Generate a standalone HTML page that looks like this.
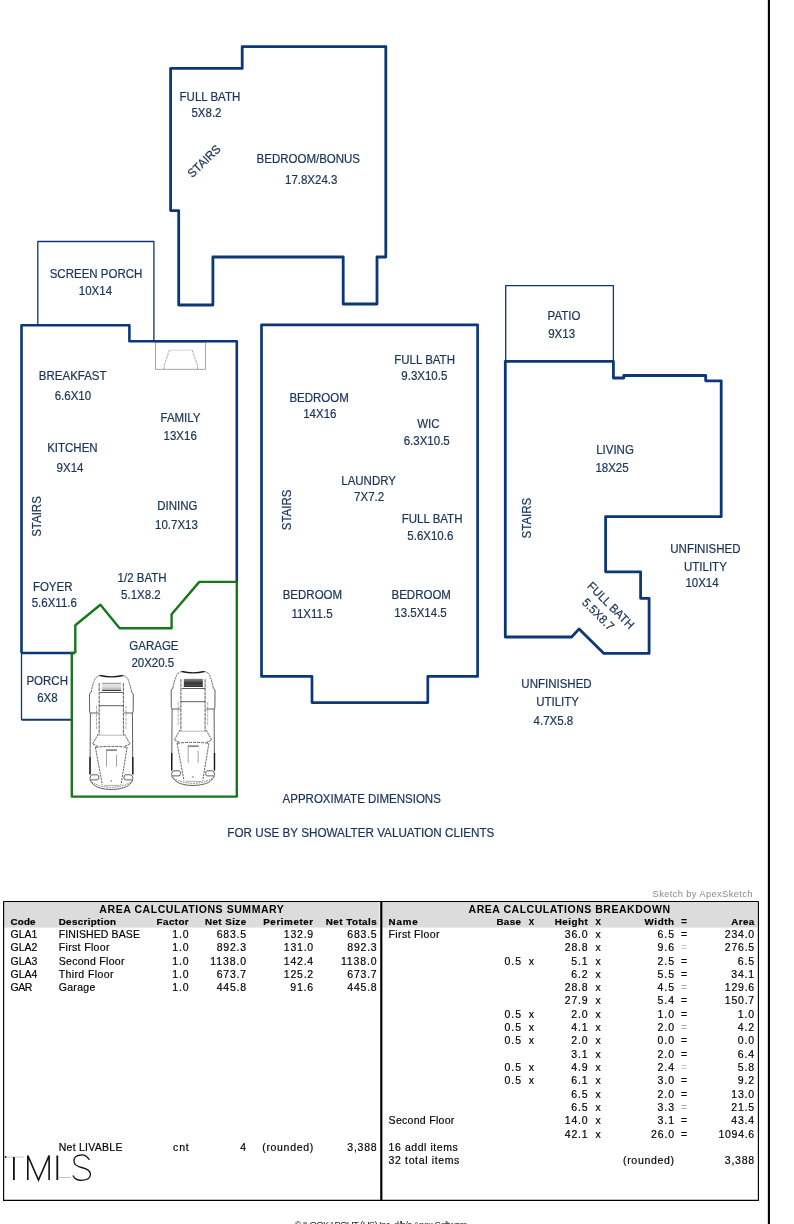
<!DOCTYPE html>
<html><head><meta charset="utf-8"><title>Sketch</title>
<style>
html,body{margin:0;padding:0;background:#fff;width:794px;height:1224px;overflow:hidden;}
svg{display:block;will-change:transform;font-family:"Liberation Sans",sans-serif;}
.t text{font-family:"Liberation Sans",sans-serif;}
</style></head><body>
<svg width="794" height="1224" viewBox="0 0 794 1224">
<defs><linearGradient id="wsg" x1="0" y1="0" x2="0" y2="1"><stop offset="0" stop-color="#e6e6e6"/><stop offset="0.5" stop-color="#dcdcdc"/><stop offset="1" stop-color="#a0a0a0"/></linearGradient>
<linearGradient id="wsg2" x1="0" y1="0" x2="0" y2="1"><stop offset="0" stop-color="#888"/><stop offset="0.5" stop-color="#333"/><stop offset="1" stop-color="#555"/></linearGradient></defs>
<g class="plan"><path d="M170.6,68.4 L242.2,68.4 L242.2,46.6 L385.8,46.6 L385.8,257 L377,257 L377,304 L343.2,304 L343.2,257 L212.9,257 L212.9,305 L178.7,305 L178.7,210.6 L170.6,210.6 Z" fill="none" stroke="#0c3779" stroke-width="2.8" stroke-linejoin="round"/><path d="M37.8,324.6 L37.8,241.5 L153.9,241.5 L153.9,341" fill="none" stroke="#0c3779" stroke-width="1.3" stroke-linejoin="round"/><path d="M21.5,653 L21.5,325.2 L129.4,325.2 L129.4,341.2 L236.8,341.2 L236.8,581.9" fill="none" stroke="#0c3779" stroke-width="2.6" stroke-linejoin="round"/><path d="M21.5,653 L75,653" fill="none" stroke="#0c3779" stroke-width="2.3" stroke-linejoin="round"/><rect x="155.5" y="342.4" width="50" height="26.8" fill="none" stroke="#6a6a6a" stroke-width="0.6"/><path d="M164.2,369 L164.2,365 L169.5,350.2 M192.1,350.2 L197.5,365 L197.5,369" fill="none" stroke="#666" stroke-width="0.6" stroke-dasharray="2.5,1"/><path d="M169.5,350.2 L192.1,350.2" stroke="#aaa" stroke-width="0.5"/><path d="M21.5,653 L21.5,719.8" fill="none" stroke="#0c3779" stroke-width="1.3" stroke-linejoin="round"/><path d="M21.5,719.8 L71.8,719.8" fill="none" stroke="#15396a" stroke-width="2.0" stroke-linejoin="round"/><path d="M75.3,653 L75.3,625.2 L100.4,604.8 L119.6,628.2 L171.6,628.2 L171.6,614.3 L199.3,581.9 L236.8,581.9 L236.8,796.6 L71.8,796.6 L71.8,653 L75.3,653" fill="none" stroke="#16781a" stroke-width="2.4" stroke-linejoin="round"/><path d="M261.5,324.8 L477.6,324.8 L477.6,676.4 L427.8,676.4 L427.8,702.6 L312,702.6 L312,676.4 L261.5,676.4 Z" fill="none" stroke="#0c3779" stroke-width="2.7" stroke-linejoin="round"/><path d="M505.7,361.3 L505.7,285.7 L613.4,285.7 L613.4,361.3" fill="none" stroke="#0c3779" stroke-width="1.3" stroke-linejoin="round"/><path d="M505.3,361.3 L613.4,361.3 L613.4,378 L623.8,378 L623.8,375.5 L705.7,375.5 L705.7,380.8 L721.2,380.8 L721.2,516.7 L605.6,516.7 L605.6,571.8 L640.6,571.8 L640.6,598.3 L649.1,598.3 L649.1,653.4 L603.9,653.4 L579.1,628.9 L571.6,637.0 L505.3,637.0 Z" fill="none" stroke="#0c3779" stroke-width="2.8" stroke-linejoin="round"/><g transform="translate(89.2,674.9)"><g id="car" fill="none" stroke="#1a1a1a" stroke-width="0.7">
<path d="M11,0.6 Q22.3,3.4 33.5,0.6" stroke-width="1.3"/>
<path d="M11,0.6 Q6,1.5 4.8,6.9 Q3,11 2,17.3 M33.5,0.6 Q38.5,1.5 39.6,6.9 Q41.4,11 42.4,17.3" stroke-dasharray="2.2,0.8"/>
<path d="M2,17.3 Q0.3,18 0.3,20 L0.4,36 Q0.4,37.8 1.2,38.1 L9.5,38.1 M42.4,17.3 Q44.1,18 44.1,20 L44,36 Q44,37.8 43.2,38.1 L35,38.1"/>
<path d="M1.2,38.1 L0.8,100 M43.2,38.1 L43.6,100"/>
<path d="M0.8,82 L0.8,99.4 M43.6,82 L43.6,99.4" stroke-width="1.4"/>
<rect x="12.9" y="8.3" width="19" height="7.6" fill="url(#wsg)" stroke="none"/>
<path d="M12.9,8.4 L31.9,8.4" stroke="#555" stroke-width="0.6"/>
<path d="M12.9,15.6 L31.9,15.6" stroke="#222" stroke-width="0.8"/>
<path d="M11,17.6 L33.9,17.6"/>
<path d="M10,8.3 L10,60.3 M34.2,8.3 L34.2,60.3" stroke-dasharray="3.5,0.7"/>
<path d="M10,30.8 L34.2,30.8"/>
<path d="M9.7,60.3 L34.6,60.3" stroke="#888" stroke-width="0.6"/>
<path d="M7.3,31 L7.3,55 M36.8,31 L36.8,55" stroke="#666" stroke-width="0.55" stroke-dasharray="3,1"/>
<path d="M9,59.3 L3.4,69 L9,71.7 M35.3,59.3 L40.8,69 L35.3,71.7" stroke-dasharray="2.2,0.7"/>
<path d="M6.2,72.4 Q22.1,70.5 38,72.4" stroke-dasharray="3,1"/>
<path d="M6.2,72.4 L13.1,109.8 M38,72.4 L31.8,109.8" stroke-dasharray="2.2,0.9"/>
<path d="M15.2,110.5 L30.4,110.5" stroke="#777" stroke-width="0.6"/>
<path d="M16.9,75.2 L27.7,75.2" stroke-width="1.1" stroke="#444"/>
<path d="M17.3,75.9 L17.3,91.8 M27.3,80 L27.3,91.8" stroke="#666" stroke-width="0.6"/>
<path d="M0.7,103.6 Q0.7,100.2 3,99.9 L8.5,99.9 Q9.6,100.5 9.6,102.5 Q9.6,104.8 8,105 L1.5,105 Z M43.7,103.6 Q43.7,100.2 41.4,99.9 L35.9,99.9 Q34.8,100.5 34.8,102.5 Q34.8,104.8 36.4,105 L42.9,105 Z"/>
<path d="M0.7,105 Q4,111 9.7,112.8 Q15,114.6 22.1,114.6 Q29,114.6 34.6,112.8 Q40.5,111 43.7,105"/>
<path d="M2.5,107.2 Q10,112 22.1,112.5 Q34,112 41.8,107.2" stroke-dasharray="1.6,1" stroke="#444"/>
<circle cx="22.1" cy="106" r="0.55" fill="#222" stroke="none"/>
</g></g><g transform="translate(170.9,670.9)"><g  fill="none" stroke="#1a1a1a" stroke-width="0.7">
<path d="M11,0.6 Q22.3,3.4 33.5,0.6" stroke-width="1.3"/>
<path d="M11,0.6 Q6,1.5 4.8,6.9 Q3,11 2,17.3 M33.5,0.6 Q38.5,1.5 39.6,6.9 Q41.4,11 42.4,17.3" stroke-dasharray="2.2,0.8"/>
<path d="M2,17.3 Q0.3,18 0.3,20 L0.4,36 Q0.4,37.8 1.2,38.1 L9.5,38.1 M42.4,17.3 Q44.1,18 44.1,20 L44,36 Q44,37.8 43.2,38.1 L35,38.1"/>
<path d="M1.2,38.1 L0.8,100 M43.2,38.1 L43.6,100"/>
<path d="M0.8,82 L0.8,99.4 M43.6,82 L43.6,99.4" stroke-width="1.4"/>
<rect x="12.9" y="8.3" width="19" height="7.6" fill="url(#wsg2)" stroke="none"/>
<path d="M12.9,8.4 L31.9,8.4" stroke="#555" stroke-width="0.6"/>
<path d="M12.9,15.6 L31.9,15.6" stroke="#222" stroke-width="0.8"/>
<path d="M11,17.6 L33.9,17.6"/>
<path d="M10,8.3 L10,60.3 M34.2,8.3 L34.2,60.3" stroke-dasharray="3.5,0.7"/>
<path d="M10,30.8 L34.2,30.8"/>
<path d="M9.7,60.3 L34.6,60.3" stroke="#888" stroke-width="0.6"/>
<path d="M7.3,31 L7.3,55 M36.8,31 L36.8,55" stroke="#666" stroke-width="0.55" stroke-dasharray="3,1"/>
<path d="M9,59.3 L3.4,69 L9,71.7 M35.3,59.3 L40.8,69 L35.3,71.7" stroke-dasharray="2.2,0.7"/>
<path d="M6.2,72.4 Q22.1,70.5 38,72.4" stroke-dasharray="3,1"/>
<path d="M6.2,72.4 L13.1,109.8 M38,72.4 L31.8,109.8" stroke-dasharray="2.2,0.9"/>
<path d="M15.2,110.5 L30.4,110.5" stroke="#777" stroke-width="0.6"/>
<path d="M16.9,75.2 L27.7,75.2" stroke-width="1.1" stroke="#444"/>
<path d="M17.3,75.9 L17.3,91.8 M27.3,80 L27.3,91.8" stroke="#666" stroke-width="0.6"/>
<path d="M0.7,103.6 Q0.7,100.2 3,99.9 L8.5,99.9 Q9.6,100.5 9.6,102.5 Q9.6,104.8 8,105 L1.5,105 Z M43.7,103.6 Q43.7,100.2 41.4,99.9 L35.9,99.9 Q34.8,100.5 34.8,102.5 Q34.8,104.8 36.4,105 L42.9,105 Z"/>
<path d="M0.7,105 Q4,111 9.7,112.8 Q15,114.6 22.1,114.6 Q29,114.6 34.6,112.8 Q40.5,111 43.7,105"/>
<path d="M2.5,107.2 Q10,112 22.1,112.5 Q34,112 41.8,107.2" stroke-dasharray="1.6,1" stroke="#444"/>
<circle cx="22.1" cy="106" r="0.55" fill="#222" stroke="none"/>
</g></g><text x="0" y="0" text-anchor="middle" font-size="12" fill="#1b3459" stroke="#1b3459" stroke-width="0.22" transform="translate(209.9 100.8) scale(0.958 1)">FULL BATH</text><text x="0" y="0" text-anchor="middle" font-size="12" fill="#1b3459" stroke="#1b3459" stroke-width="0.22" transform="translate(206.5 117.1) scale(0.958 1)">5X8.2</text><text x="0" y="0" text-anchor="middle" font-size="12" fill="#1b3459" stroke="#1b3459" stroke-width="0.22" transform="translate(308.3 162.8) scale(0.958 1)">BEDROOM/BONUS</text><text x="0" y="0" text-anchor="middle" font-size="12" fill="#1b3459" stroke="#1b3459" stroke-width="0.22" transform="translate(311.2 184.0) scale(0.958 1)">17.8X24.3</text><text x="0" y="0" text-anchor="middle" font-size="12" fill="#1b3459" stroke="#1b3459" stroke-width="0.22" transform="translate(96.0 278.3) scale(0.958 1)">SCREEN PORCH</text><text x="0" y="0" text-anchor="middle" font-size="12" fill="#1b3459" stroke="#1b3459" stroke-width="0.22" transform="translate(95.4 295.3) scale(0.958 1)">10X14</text><text x="0" y="0" text-anchor="middle" font-size="12" fill="#1b3459" stroke="#1b3459" stroke-width="0.22" transform="translate(72.7 379.8) scale(0.958 1)">BREAKFAST</text><text x="0" y="0" text-anchor="middle" font-size="12" fill="#1b3459" stroke="#1b3459" stroke-width="0.22" transform="translate(72.9 399.7) scale(0.958 1)">6.6X10</text><text x="0" y="0" text-anchor="middle" font-size="12" fill="#1b3459" stroke="#1b3459" stroke-width="0.22" transform="translate(180.5 422.0) scale(0.958 1)">FAMILY</text><text x="0" y="0" text-anchor="middle" font-size="12" fill="#1b3459" stroke="#1b3459" stroke-width="0.22" transform="translate(180.2 440.0) scale(0.958 1)">13X16</text><text x="0" y="0" text-anchor="middle" font-size="12" fill="#1b3459" stroke="#1b3459" stroke-width="0.22" transform="translate(72.4 452.0) scale(0.958 1)">KITCHEN</text><text x="0" y="0" text-anchor="middle" font-size="12" fill="#1b3459" stroke="#1b3459" stroke-width="0.22" transform="translate(70.0 472.1) scale(0.958 1)">9X14</text><text x="0" y="0" text-anchor="middle" font-size="12" fill="#1b3459" stroke="#1b3459" stroke-width="0.22" transform="translate(177.4 510.2) scale(0.958 1)">DINING</text><text x="0" y="0" text-anchor="middle" font-size="12" fill="#1b3459" stroke="#1b3459" stroke-width="0.22" transform="translate(176.5 528.8) scale(0.958 1)">10.7X13</text><text x="0" y="0" text-anchor="middle" font-size="12" fill="#1b3459" stroke="#1b3459" stroke-width="0.22" transform="translate(52.7 591.3) scale(0.958 1)">FOYER</text><text x="0" y="0" text-anchor="middle" font-size="12" fill="#1b3459" stroke="#1b3459" stroke-width="0.22" transform="translate(54.3 607.0) scale(0.958 1)">5.6X11.6</text><text x="0" y="0" text-anchor="middle" font-size="12" fill="#1b3459" stroke="#1b3459" stroke-width="0.22" transform="translate(142.1 581.9) scale(0.958 1)">1/2 BATH</text><text x="0" y="0" text-anchor="middle" font-size="12" fill="#1b3459" stroke="#1b3459" stroke-width="0.22" transform="translate(140.9 598.9) scale(0.958 1)">5.1X8.2</text><text x="0" y="0" text-anchor="middle" font-size="12" fill="#1b3459" stroke="#1b3459" stroke-width="0.22" transform="translate(153.9 649.6) scale(0.958 1)">GARAGE</text><text x="0" y="0" text-anchor="middle" font-size="12" fill="#1b3459" stroke="#1b3459" stroke-width="0.22" transform="translate(152.8 666.6) scale(0.958 1)">20X20.5</text><text x="0" y="0" text-anchor="middle" font-size="12" fill="#1b3459" stroke="#1b3459" stroke-width="0.22" transform="translate(47.2 684.9) scale(0.958 1)">PORCH</text><text x="0" y="0" text-anchor="middle" font-size="12" fill="#1b3459" stroke="#1b3459" stroke-width="0.22" transform="translate(47.4 701.7) scale(0.958 1)">6X8</text><text x="0" y="0" text-anchor="middle" font-size="12" fill="#1b3459" stroke="#1b3459" stroke-width="0.22" transform="translate(424.6 364.4) scale(0.958 1)">FULL BATH</text><text x="0" y="0" text-anchor="middle" font-size="12" fill="#1b3459" stroke="#1b3459" stroke-width="0.22" transform="translate(424.3 380.4) scale(0.958 1)">9.3X10.5</text><text x="0" y="0" text-anchor="middle" font-size="12" fill="#1b3459" stroke="#1b3459" stroke-width="0.22" transform="translate(319.1 401.9) scale(0.958 1)">BEDROOM</text><text x="0" y="0" text-anchor="middle" font-size="12" fill="#1b3459" stroke="#1b3459" stroke-width="0.22" transform="translate(319.8 417.5) scale(0.958 1)">14X16</text><text x="0" y="0" text-anchor="middle" font-size="12" fill="#1b3459" stroke="#1b3459" stroke-width="0.22" transform="translate(428.3 428.2) scale(0.958 1)">WIC</text><text x="0" y="0" text-anchor="middle" font-size="12" fill="#1b3459" stroke="#1b3459" stroke-width="0.22" transform="translate(426.7 445.4) scale(0.958 1)">6.3X10.5</text><text x="0" y="0" text-anchor="middle" font-size="12" fill="#1b3459" stroke="#1b3459" stroke-width="0.22" transform="translate(368.6 485.2) scale(0.958 1)">LAUNDRY</text><text x="0" y="0" text-anchor="middle" font-size="12" fill="#1b3459" stroke="#1b3459" stroke-width="0.22" transform="translate(369.1 500.6) scale(0.958 1)">7X7.2</text><text x="0" y="0" text-anchor="middle" font-size="12" fill="#1b3459" stroke="#1b3459" stroke-width="0.22" transform="translate(432.1 522.5) scale(0.958 1)">FULL BATH</text><text x="0" y="0" text-anchor="middle" font-size="12" fill="#1b3459" stroke="#1b3459" stroke-width="0.22" transform="translate(430.3 539.6) scale(0.958 1)">5.6X10.6</text><text x="0" y="0" text-anchor="middle" font-size="12" fill="#1b3459" stroke="#1b3459" stroke-width="0.22" transform="translate(312.4 598.7) scale(0.958 1)">BEDROOM</text><text x="0" y="0" text-anchor="middle" font-size="12" fill="#1b3459" stroke="#1b3459" stroke-width="0.22" transform="translate(312.0 618.3) scale(0.958 1)">11X11.5</text><text x="0" y="0" text-anchor="middle" font-size="12" fill="#1b3459" stroke="#1b3459" stroke-width="0.22" transform="translate(421.2 598.7) scale(0.958 1)">BEDROOM</text><text x="0" y="0" text-anchor="middle" font-size="12" fill="#1b3459" stroke="#1b3459" stroke-width="0.22" transform="translate(420.5 617.4) scale(0.958 1)">13.5X14.5</text><text x="0" y="0" text-anchor="middle" font-size="12" fill="#1b3459" stroke="#1b3459" stroke-width="0.22" transform="translate(564.0 320.4) scale(0.958 1)">PATIO</text><text x="0" y="0" text-anchor="middle" font-size="12" fill="#1b3459" stroke="#1b3459" stroke-width="0.22" transform="translate(561.6 337.7) scale(0.958 1)">9X13</text><text x="0" y="0" text-anchor="middle" font-size="12" fill="#1b3459" stroke="#1b3459" stroke-width="0.22" transform="translate(615.0 453.5) scale(0.958 1)">LIVING</text><text x="0" y="0" text-anchor="middle" font-size="12" fill="#1b3459" stroke="#1b3459" stroke-width="0.22" transform="translate(612.0 471.5) scale(0.958 1)">18X25</text><text x="0" y="0" text-anchor="middle" font-size="12" fill="#1b3459" stroke="#1b3459" stroke-width="0.22" transform="translate(705.4 552.6) scale(0.958 1)">UNFINISHED</text><text x="0" y="0" text-anchor="middle" font-size="12" fill="#1b3459" stroke="#1b3459" stroke-width="0.22" transform="translate(705.4 570.7) scale(0.958 1)">UTILITY</text><text x="0" y="0" text-anchor="middle" font-size="12" fill="#1b3459" stroke="#1b3459" stroke-width="0.22" transform="translate(702.0 586.5) scale(0.958 1)">10X14</text><text x="0" y="0" text-anchor="middle" font-size="12" fill="#1b3459" stroke="#1b3459" stroke-width="0.22" transform="translate(556.5 687.7) scale(0.958 1)">UNFINISHED</text><text x="0" y="0" text-anchor="middle" font-size="12" fill="#1b3459" stroke="#1b3459" stroke-width="0.22" transform="translate(557.6 705.8) scale(0.958 1)">UTILITY</text><text x="0" y="0" text-anchor="middle" font-size="12" fill="#1b3459" stroke="#1b3459" stroke-width="0.22" transform="translate(553.4 724.7) scale(0.958 1)">4.7X5.8</text><text x="0" y="0" text-anchor="middle" font-size="12" fill="#1b3459" stroke="#1b3459" stroke-width="0.22" transform="translate(361.7 803.4) scale(0.958 1)">APPROXIMATE DIMENSIONS</text><text x="0" y="0" text-anchor="middle" font-size="12" fill="#1b3459" stroke="#1b3459" stroke-width="0.22" transform="translate(360.8 836.7) scale(0.975 1)">FOR USE BY SHOWALTER VALUATION CLIENTS</text><text x="0" y="0" text-anchor="middle" font-size="12" fill="#1b3459" stroke="#1b3459" stroke-width="0.22" transform="translate(41.4 516.5) rotate(-90) scale(0.958 1)">STAIRS</text><text x="0" y="0" text-anchor="middle" font-size="12" fill="#1b3459" stroke="#1b3459" stroke-width="0.22" transform="translate(291.2 509.9) rotate(-90) scale(0.958 1)">STAIRS</text><text x="0" y="0" text-anchor="middle" font-size="12" fill="#1b3459" stroke="#1b3459" stroke-width="0.22" transform="translate(530.6 518.1) rotate(-90) scale(0.958 1)">STAIRS</text><text x="0" y="0" text-anchor="middle" font-size="12" fill="#1b3459" stroke="#1b3459" stroke-width="0.22" transform="translate(206.9 164.1) rotate(-44) scale(0.958 1)">STAIRS</text><text x="0" y="0" text-anchor="middle" font-size="12" fill="#1b3459" stroke="#1b3459" stroke-width="0.22" transform="translate(608.0 608.3) rotate(45) scale(0.958 1)">FULL BATH</text><text x="0" y="0" text-anchor="middle" font-size="12" fill="#1b3459" stroke="#1b3459" stroke-width="0.22" transform="translate(595.2 617.3) rotate(45) scale(0.958 1)">5.5X8.7</text></g>
<g class="t"><rect x="3.2" y="927.5" width="0" height="0"/><rect x="4" y="902" width="375.5" height="25.6" fill="#dcdcdc"/><rect x="382.5" y="902" width="375" height="25.6" fill="#dcdcdc"/><path d="M3.6,901.5 L758.4,901.5 M3.6,901.5 L3.6,1200.3 L758.4,1200.3 L758.4,901.5" fill="none" stroke="#000" stroke-width="1.15"/><path d="M381.3,901 L381.3,1200.8" stroke="#000" stroke-width="2.2"/><path d="M768.9,0 L768.9,1224" stroke="#000" stroke-width="2.1"/><text x="191.6" y="912.6" text-anchor="middle" font-size="10.5" font-weight="bold" fill="#000" textLength="184.5" lengthAdjust="spacing">AREA CALCULATIONS SUMMARY</text><text x="569.3" y="912.6" text-anchor="middle" font-size="10.5" font-weight="bold" fill="#000" textLength="201.5" lengthAdjust="spacing">AREA CALCULATIONS BREAKDOWN</text><text x="10.6" y="925.3" text-anchor="start" font-size="9.8" font-weight="bold" fill="#000" textLength="24.9" lengthAdjust="spacing" stroke="#000" stroke-width="0.2">Code</text><text x="58.7" y="925.3" text-anchor="start" font-size="9.8" font-weight="bold" fill="#000" textLength="57.4" lengthAdjust="spacing" stroke="#000" stroke-width="0.2">Description</text><text x="188.7" y="925.3" text-anchor="end" font-size="9.8" font-weight="bold" fill="#000" textLength="32.1" lengthAdjust="spacing" stroke="#000" stroke-width="0.2">Factor</text><text x="246.1" y="925.3" text-anchor="end" font-size="9.8" font-weight="bold" fill="#000" textLength="41.2" lengthAdjust="spacing" stroke="#000" stroke-width="0.2">Net Size</text><text x="313.2" y="925.3" text-anchor="end" font-size="9.8" font-weight="bold" fill="#000" textLength="50.0" lengthAdjust="spacing" stroke="#000" stroke-width="0.2">Perimeter</text><text x="376.7" y="925.3" text-anchor="end" font-size="9.8" font-weight="bold" fill="#000" textLength="50.9" lengthAdjust="spacing" stroke="#000" stroke-width="0.2">Net Totals</text><text x="10.6" y="937.8" text-anchor="start" font-size="10.5" fill="#000" textLength="26.8" lengthAdjust="spacing" stroke="#000" stroke-width="0.18">GLA1</text><text x="58.7" y="937.8" text-anchor="start" font-size="10.5" fill="#000" textLength="81.2" lengthAdjust="spacing" stroke="#000" stroke-width="0.18">FINISHED BASE</text><text x="188.7" y="937.8" text-anchor="end" font-size="10.5" fill="#000" textLength="16.5" lengthAdjust="spacing" stroke="#000" stroke-width="0.18">1.0</text><text x="246.1" y="937.8" text-anchor="end" font-size="10.5" fill="#000" textLength="29.4" lengthAdjust="spacing" stroke="#000" stroke-width="0.18">683.5</text><text x="313.2" y="937.8" text-anchor="end" font-size="10.5" fill="#000" textLength="29.4" lengthAdjust="spacing" stroke="#000" stroke-width="0.18">132.9</text><text x="376.7" y="937.8" text-anchor="end" font-size="10.5" fill="#000" textLength="29.4" lengthAdjust="spacing" stroke="#000" stroke-width="0.18">683.5</text><text x="10.6" y="951.1" text-anchor="start" font-size="10.5" fill="#000" textLength="26.8" lengthAdjust="spacing" stroke="#000" stroke-width="0.18">GLA2</text><text x="58.7" y="951.1" text-anchor="start" font-size="10.5" fill="#000" textLength="50.8" lengthAdjust="spacing" stroke="#000" stroke-width="0.18">First Floor</text><text x="188.7" y="951.1" text-anchor="end" font-size="10.5" fill="#000" textLength="16.5" lengthAdjust="spacing" stroke="#000" stroke-width="0.18">1.0</text><text x="246.1" y="951.1" text-anchor="end" font-size="10.5" fill="#000" textLength="29.4" lengthAdjust="spacing" stroke="#000" stroke-width="0.18">892.3</text><text x="313.2" y="951.1" text-anchor="end" font-size="10.5" fill="#000" textLength="29.4" lengthAdjust="spacing" stroke="#000" stroke-width="0.18">131.0</text><text x="376.7" y="951.1" text-anchor="end" font-size="10.5" fill="#000" textLength="29.4" lengthAdjust="spacing" stroke="#000" stroke-width="0.18">892.3</text><text x="10.6" y="964.5" text-anchor="start" font-size="10.5" fill="#000" textLength="26.8" lengthAdjust="spacing" stroke="#000" stroke-width="0.18">GLA3</text><text x="58.7" y="964.5" text-anchor="start" font-size="10.5" fill="#000" textLength="65.7" lengthAdjust="spacing" stroke="#000" stroke-width="0.18">Second Floor</text><text x="188.7" y="964.5" text-anchor="end" font-size="10.5" fill="#000" textLength="16.5" lengthAdjust="spacing" stroke="#000" stroke-width="0.18">1.0</text><text x="246.1" y="964.5" text-anchor="end" font-size="10.5" fill="#000" textLength="35.8" lengthAdjust="spacing" stroke="#000" stroke-width="0.18">1138.0</text><text x="313.2" y="964.5" text-anchor="end" font-size="10.5" fill="#000" textLength="29.4" lengthAdjust="spacing" stroke="#000" stroke-width="0.18">142.4</text><text x="376.7" y="964.5" text-anchor="end" font-size="10.5" fill="#000" textLength="35.8" lengthAdjust="spacing" stroke="#000" stroke-width="0.18">1138.0</text><text x="10.6" y="977.8" text-anchor="start" font-size="10.5" fill="#000" textLength="26.8" lengthAdjust="spacing" stroke="#000" stroke-width="0.18">GLA4</text><text x="58.7" y="977.8" text-anchor="start" font-size="10.5" fill="#000" textLength="54.7" lengthAdjust="spacing" stroke="#000" stroke-width="0.18">Third Floor</text><text x="188.7" y="977.8" text-anchor="end" font-size="10.5" fill="#000" textLength="16.5" lengthAdjust="spacing" stroke="#000" stroke-width="0.18">1.0</text><text x="246.1" y="977.8" text-anchor="end" font-size="10.5" fill="#000" textLength="29.4" lengthAdjust="spacing" stroke="#000" stroke-width="0.18">673.7</text><text x="313.2" y="977.8" text-anchor="end" font-size="10.5" fill="#000" textLength="29.4" lengthAdjust="spacing" stroke="#000" stroke-width="0.18">125.2</text><text x="376.7" y="977.8" text-anchor="end" font-size="10.5" fill="#000" textLength="29.4" lengthAdjust="spacing" stroke="#000" stroke-width="0.18">673.7</text><text x="10.6" y="991.1" text-anchor="start" font-size="10.5" fill="#000" textLength="21.8" lengthAdjust="spacing" stroke="#000" stroke-width="0.18">GAR</text><text x="58.7" y="991.1" text-anchor="start" font-size="10.5" fill="#000" textLength="36.6" lengthAdjust="spacing" stroke="#000" stroke-width="0.18">Garage</text><text x="188.7" y="991.1" text-anchor="end" font-size="10.5" fill="#000" textLength="16.5" lengthAdjust="spacing" stroke="#000" stroke-width="0.18">1.0</text><text x="246.1" y="991.1" text-anchor="end" font-size="10.5" fill="#000" textLength="29.4" lengthAdjust="spacing" stroke="#000" stroke-width="0.18">445.8</text><text x="313.2" y="991.1" text-anchor="end" font-size="10.5" fill="#000" textLength="22.9" lengthAdjust="spacing" stroke="#000" stroke-width="0.18">91.6</text><text x="376.7" y="991.1" text-anchor="end" font-size="10.5" fill="#000" textLength="29.4" lengthAdjust="spacing" stroke="#000" stroke-width="0.18">445.8</text><text x="58.7" y="1151.1" text-anchor="start" font-size="10.5" fill="#000" textLength="63.7" lengthAdjust="spacing" stroke="#000" stroke-width="0.18">Net LIVABLE</text><text x="188.7" y="1151.1" text-anchor="end" font-size="10.5" fill="#000" textLength="15.6" lengthAdjust="spacing" stroke="#000" stroke-width="0.18">cnt</text><text x="246.1" y="1151.1" text-anchor="end" font-size="10.5" fill="#000" textLength="6.4" lengthAdjust="spacing" stroke="#000" stroke-width="0.18">4</text><text x="313.2" y="1151.1" text-anchor="end" font-size="10.5" fill="#000" textLength="51.0" lengthAdjust="spacing" stroke="#000" stroke-width="0.18">(rounded)</text><text x="376.7" y="1151.1" text-anchor="end" font-size="10.5" fill="#000" textLength="29.4" lengthAdjust="spacing" stroke="#000" stroke-width="0.18">3,388</text><text x="388.6" y="925.3" text-anchor="start" font-size="9.8" font-weight="bold" fill="#000" textLength="29.1" lengthAdjust="spacing" stroke="#000" stroke-width="0.2">Name</text><text x="521.0" y="925.3" text-anchor="end" font-size="9.8" font-weight="bold" fill="#000" textLength="24.6" lengthAdjust="spacing" stroke="#000" stroke-width="0.2">Base</text><text x="531.3" y="925.3" text-anchor="middle" font-size="10.5" font-weight="bold" fill="#000" textLength="6.8" lengthAdjust="spacing">x</text><text x="587.7" y="925.3" text-anchor="end" font-size="9.8" font-weight="bold" fill="#000" textLength="33.0" lengthAdjust="spacing" stroke="#000" stroke-width="0.2">Height</text><text x="598.2" y="925.3" text-anchor="middle" font-size="10.5" font-weight="bold" fill="#000" textLength="6.8" lengthAdjust="spacing">x</text><text x="674.0" y="925.3" text-anchor="end" font-size="9.8" font-weight="bold" fill="#000" textLength="29.4" lengthAdjust="spacing" stroke="#000" stroke-width="0.2">Width</text><text x="684.0" y="925.3" text-anchor="middle" font-size="10.5" font-weight="bold" fill="#000" textLength="8.5" lengthAdjust="spacing">=</text><text x="754.2" y="925.3" text-anchor="end" font-size="9.8" font-weight="bold" fill="#000" textLength="23.0" lengthAdjust="spacing" stroke="#000" stroke-width="0.2">Area</text><text x="388.6" y="937.8" text-anchor="start" font-size="10.5" fill="#000" textLength="50.8" lengthAdjust="spacing" stroke="#000" stroke-width="0.18">First Floor</text><text x="587.7" y="937.8" text-anchor="end" font-size="10.5" fill="#000" textLength="22.9" lengthAdjust="spacing" stroke="#000" stroke-width="0.18">36.0</text><text x="598.2" y="937.8" text-anchor="middle" font-size="10.5" fill="#000" textLength="6.0" lengthAdjust="spacing" stroke="#000" stroke-width="0.18">x</text><text x="674.0" y="937.8" text-anchor="end" font-size="10.5" fill="#000" textLength="16.5" lengthAdjust="spacing" stroke="#000" stroke-width="0.18">6.5</text><text x="684.0" y="937.8" text-anchor="middle" font-size="10.5" fill="#000" textLength="8.5" lengthAdjust="spacing" stroke="#000" stroke-width="0.18">=</text><text x="754.2" y="937.8" text-anchor="end" font-size="10.5" fill="#000" textLength="29.4" lengthAdjust="spacing" stroke="#000" stroke-width="0.18">234.0</text><text x="587.7" y="951.1" text-anchor="end" font-size="10.5" fill="#000" textLength="22.9" lengthAdjust="spacing" stroke="#000" stroke-width="0.18">28.8</text><text x="598.2" y="951.1" text-anchor="middle" font-size="10.5" fill="#000" textLength="6.0" lengthAdjust="spacing" stroke="#000" stroke-width="0.18">x</text><text x="674.0" y="951.1" text-anchor="end" font-size="10.5" fill="#000" textLength="16.5" lengthAdjust="spacing" stroke="#000" stroke-width="0.18">9.6</text><text x="684.0" y="951.1" text-anchor="middle" font-size="10.5" fill="#c4c4c4" textLength="8.5" lengthAdjust="spacing">=</text><text x="754.2" y="951.1" text-anchor="end" font-size="10.5" fill="#000" textLength="29.4" lengthAdjust="spacing" stroke="#000" stroke-width="0.18">276.5</text><text x="521.0" y="964.5" text-anchor="end" font-size="10.5" fill="#000" textLength="16.5" lengthAdjust="spacing" stroke="#000" stroke-width="0.18">0.5</text><text x="531.3" y="964.5" text-anchor="middle" font-size="10.5" fill="#000" textLength="6.0" lengthAdjust="spacing" stroke="#000" stroke-width="0.18">x</text><text x="587.7" y="964.5" text-anchor="end" font-size="10.5" fill="#000" textLength="16.5" lengthAdjust="spacing" stroke="#000" stroke-width="0.18">5.1</text><text x="598.2" y="964.5" text-anchor="middle" font-size="10.5" fill="#000" textLength="6.0" lengthAdjust="spacing" stroke="#000" stroke-width="0.18">x</text><text x="674.0" y="964.5" text-anchor="end" font-size="10.5" fill="#000" textLength="16.5" lengthAdjust="spacing" stroke="#000" stroke-width="0.18">2.5</text><text x="684.0" y="964.5" text-anchor="middle" font-size="10.5" fill="#000" textLength="8.5" lengthAdjust="spacing" stroke="#000" stroke-width="0.18">=</text><text x="754.2" y="964.5" text-anchor="end" font-size="10.5" fill="#000" textLength="16.5" lengthAdjust="spacing" stroke="#000" stroke-width="0.18">6.5</text><text x="587.7" y="977.8" text-anchor="end" font-size="10.5" fill="#000" textLength="16.5" lengthAdjust="spacing" stroke="#000" stroke-width="0.18">6.2</text><text x="598.2" y="977.8" text-anchor="middle" font-size="10.5" fill="#000" textLength="6.0" lengthAdjust="spacing" stroke="#000" stroke-width="0.18">x</text><text x="674.0" y="977.8" text-anchor="end" font-size="10.5" fill="#000" textLength="16.5" lengthAdjust="spacing" stroke="#000" stroke-width="0.18">5.5</text><text x="684.0" y="977.8" text-anchor="middle" font-size="10.5" fill="#000" textLength="8.5" lengthAdjust="spacing" stroke="#000" stroke-width="0.18">=</text><text x="754.2" y="977.8" text-anchor="end" font-size="10.5" fill="#000" textLength="22.9" lengthAdjust="spacing" stroke="#000" stroke-width="0.18">34.1</text><text x="587.7" y="991.1" text-anchor="end" font-size="10.5" fill="#000" textLength="22.9" lengthAdjust="spacing" stroke="#000" stroke-width="0.18">28.8</text><text x="598.2" y="991.1" text-anchor="middle" font-size="10.5" fill="#000" textLength="6.0" lengthAdjust="spacing" stroke="#000" stroke-width="0.18">x</text><text x="674.0" y="991.1" text-anchor="end" font-size="10.5" fill="#000" textLength="16.5" lengthAdjust="spacing" stroke="#000" stroke-width="0.18">4.5</text><text x="684.0" y="991.1" text-anchor="middle" font-size="10.5" fill="#a8a8a8" textLength="8.5" lengthAdjust="spacing">=</text><text x="754.2" y="991.1" text-anchor="end" font-size="10.5" fill="#000" textLength="29.4" lengthAdjust="spacing" stroke="#000" stroke-width="0.18">129.6</text><text x="587.7" y="1004.4" text-anchor="end" font-size="10.5" fill="#000" textLength="22.9" lengthAdjust="spacing" stroke="#000" stroke-width="0.18">27.9</text><text x="598.2" y="1004.4" text-anchor="middle" font-size="10.5" fill="#000" textLength="6.0" lengthAdjust="spacing" stroke="#000" stroke-width="0.18">x</text><text x="674.0" y="1004.4" text-anchor="end" font-size="10.5" fill="#000" textLength="16.5" lengthAdjust="spacing" stroke="#000" stroke-width="0.18">5.4</text><text x="684.0" y="1004.4" text-anchor="middle" font-size="10.5" fill="#000" textLength="8.5" lengthAdjust="spacing" stroke="#000" stroke-width="0.18">=</text><text x="754.2" y="1004.4" text-anchor="end" font-size="10.5" fill="#000" textLength="29.4" lengthAdjust="spacing" stroke="#000" stroke-width="0.18">150.7</text><text x="521.0" y="1017.8" text-anchor="end" font-size="10.5" fill="#000" textLength="16.5" lengthAdjust="spacing" stroke="#000" stroke-width="0.18">0.5</text><text x="531.3" y="1017.8" text-anchor="middle" font-size="10.5" fill="#000" textLength="6.0" lengthAdjust="spacing" stroke="#000" stroke-width="0.18">x</text><text x="587.7" y="1017.8" text-anchor="end" font-size="10.5" fill="#000" textLength="16.5" lengthAdjust="spacing" stroke="#000" stroke-width="0.18">2.0</text><text x="598.2" y="1017.8" text-anchor="middle" font-size="10.5" fill="#000" textLength="6.0" lengthAdjust="spacing" stroke="#000" stroke-width="0.18">x</text><text x="674.0" y="1017.8" text-anchor="end" font-size="10.5" fill="#000" textLength="16.5" lengthAdjust="spacing" stroke="#000" stroke-width="0.18">1.0</text><text x="684.0" y="1017.8" text-anchor="middle" font-size="10.5" fill="#000" textLength="8.5" lengthAdjust="spacing" stroke="#000" stroke-width="0.18">=</text><text x="754.2" y="1017.8" text-anchor="end" font-size="10.5" fill="#000" textLength="16.5" lengthAdjust="spacing" stroke="#000" stroke-width="0.18">1.0</text><text x="521.0" y="1031.1" text-anchor="end" font-size="10.5" fill="#000" textLength="16.5" lengthAdjust="spacing" stroke="#000" stroke-width="0.18">0.5</text><text x="531.3" y="1031.1" text-anchor="middle" font-size="10.5" fill="#000" textLength="6.0" lengthAdjust="spacing" stroke="#000" stroke-width="0.18">x</text><text x="587.7" y="1031.1" text-anchor="end" font-size="10.5" fill="#000" textLength="16.5" lengthAdjust="spacing" stroke="#000" stroke-width="0.18">4.1</text><text x="598.2" y="1031.1" text-anchor="middle" font-size="10.5" fill="#000" textLength="6.0" lengthAdjust="spacing" stroke="#000" stroke-width="0.18">x</text><text x="674.0" y="1031.1" text-anchor="end" font-size="10.5" fill="#000" textLength="16.5" lengthAdjust="spacing" stroke="#000" stroke-width="0.18">2.0</text><text x="684.0" y="1031.1" text-anchor="middle" font-size="10.5" fill="#a8a8a8" textLength="8.5" lengthAdjust="spacing">=</text><text x="754.2" y="1031.1" text-anchor="end" font-size="10.5" fill="#000" textLength="16.5" lengthAdjust="spacing" stroke="#000" stroke-width="0.18">4.2</text><text x="521.0" y="1044.4" text-anchor="end" font-size="10.5" fill="#000" textLength="16.5" lengthAdjust="spacing" stroke="#000" stroke-width="0.18">0.5</text><text x="531.3" y="1044.4" text-anchor="middle" font-size="10.5" fill="#000" textLength="6.0" lengthAdjust="spacing" stroke="#000" stroke-width="0.18">x</text><text x="587.7" y="1044.4" text-anchor="end" font-size="10.5" fill="#000" textLength="16.5" lengthAdjust="spacing" stroke="#000" stroke-width="0.18">2.0</text><text x="598.2" y="1044.4" text-anchor="middle" font-size="10.5" fill="#000" textLength="6.0" lengthAdjust="spacing" stroke="#000" stroke-width="0.18">x</text><text x="674.0" y="1044.4" text-anchor="end" font-size="10.5" fill="#000" textLength="16.5" lengthAdjust="spacing" stroke="#000" stroke-width="0.18">0.0</text><text x="684.0" y="1044.4" text-anchor="middle" font-size="10.5" fill="#000" textLength="8.5" lengthAdjust="spacing" stroke="#000" stroke-width="0.18">=</text><text x="754.2" y="1044.4" text-anchor="end" font-size="10.5" fill="#000" textLength="16.5" lengthAdjust="spacing" stroke="#000" stroke-width="0.18">0.0</text><text x="587.7" y="1057.8" text-anchor="end" font-size="10.5" fill="#000" textLength="16.5" lengthAdjust="spacing" stroke="#000" stroke-width="0.18">3.1</text><text x="598.2" y="1057.8" text-anchor="middle" font-size="10.5" fill="#000" textLength="6.0" lengthAdjust="spacing" stroke="#000" stroke-width="0.18">x</text><text x="674.0" y="1057.8" text-anchor="end" font-size="10.5" fill="#000" textLength="16.5" lengthAdjust="spacing" stroke="#000" stroke-width="0.18">2.0</text><text x="684.0" y="1057.8" text-anchor="middle" font-size="10.5" fill="#000" textLength="8.5" lengthAdjust="spacing" stroke="#000" stroke-width="0.18">=</text><text x="754.2" y="1057.8" text-anchor="end" font-size="10.5" fill="#000" textLength="16.5" lengthAdjust="spacing" stroke="#000" stroke-width="0.18">6.4</text><text x="521.0" y="1071.1" text-anchor="end" font-size="10.5" fill="#000" textLength="16.5" lengthAdjust="spacing" stroke="#000" stroke-width="0.18">0.5</text><text x="531.3" y="1071.1" text-anchor="middle" font-size="10.5" fill="#000" textLength="6.0" lengthAdjust="spacing" stroke="#000" stroke-width="0.18">x</text><text x="587.7" y="1071.1" text-anchor="end" font-size="10.5" fill="#000" textLength="16.5" lengthAdjust="spacing" stroke="#000" stroke-width="0.18">4.9</text><text x="598.2" y="1071.1" text-anchor="middle" font-size="10.5" fill="#000" textLength="6.0" lengthAdjust="spacing" stroke="#000" stroke-width="0.18">x</text><text x="674.0" y="1071.1" text-anchor="end" font-size="10.5" fill="#000" textLength="16.5" lengthAdjust="spacing" stroke="#000" stroke-width="0.18">2.4</text><text x="684.0" y="1071.1" text-anchor="middle" font-size="10.5" fill="#c4c4c4" textLength="8.5" lengthAdjust="spacing">=</text><text x="754.2" y="1071.1" text-anchor="end" font-size="10.5" fill="#000" textLength="16.5" lengthAdjust="spacing" stroke="#000" stroke-width="0.18">5.8</text><text x="521.0" y="1084.4" text-anchor="end" font-size="10.5" fill="#000" textLength="16.5" lengthAdjust="spacing" stroke="#000" stroke-width="0.18">0.5</text><text x="531.3" y="1084.4" text-anchor="middle" font-size="10.5" fill="#000" textLength="6.0" lengthAdjust="spacing" stroke="#000" stroke-width="0.18">x</text><text x="587.7" y="1084.4" text-anchor="end" font-size="10.5" fill="#000" textLength="16.5" lengthAdjust="spacing" stroke="#000" stroke-width="0.18">6.1</text><text x="598.2" y="1084.4" text-anchor="middle" font-size="10.5" fill="#000" textLength="6.0" lengthAdjust="spacing" stroke="#000" stroke-width="0.18">x</text><text x="674.0" y="1084.4" text-anchor="end" font-size="10.5" fill="#000" textLength="16.5" lengthAdjust="spacing" stroke="#000" stroke-width="0.18">3.0</text><text x="684.0" y="1084.4" text-anchor="middle" font-size="10.5" fill="#000" textLength="8.5" lengthAdjust="spacing" stroke="#000" stroke-width="0.18">=</text><text x="754.2" y="1084.4" text-anchor="end" font-size="10.5" fill="#000" textLength="16.5" lengthAdjust="spacing" stroke="#000" stroke-width="0.18">9.2</text><text x="587.7" y="1097.8" text-anchor="end" font-size="10.5" fill="#000" textLength="16.5" lengthAdjust="spacing" stroke="#000" stroke-width="0.18">6.5</text><text x="598.2" y="1097.8" text-anchor="middle" font-size="10.5" fill="#000" textLength="6.0" lengthAdjust="spacing" stroke="#000" stroke-width="0.18">x</text><text x="674.0" y="1097.8" text-anchor="end" font-size="10.5" fill="#000" textLength="16.5" lengthAdjust="spacing" stroke="#000" stroke-width="0.18">2.0</text><text x="684.0" y="1097.8" text-anchor="middle" font-size="10.5" fill="#000" textLength="8.5" lengthAdjust="spacing" stroke="#000" stroke-width="0.18">=</text><text x="754.2" y="1097.8" text-anchor="end" font-size="10.5" fill="#000" textLength="22.9" lengthAdjust="spacing" stroke="#000" stroke-width="0.18">13.0</text><text x="587.7" y="1111.1" text-anchor="end" font-size="10.5" fill="#000" textLength="16.5" lengthAdjust="spacing" stroke="#000" stroke-width="0.18">6.5</text><text x="598.2" y="1111.1" text-anchor="middle" font-size="10.5" fill="#000" textLength="6.0" lengthAdjust="spacing" stroke="#000" stroke-width="0.18">x</text><text x="674.0" y="1111.1" text-anchor="end" font-size="10.5" fill="#000" textLength="16.5" lengthAdjust="spacing" stroke="#000" stroke-width="0.18">3.3</text><text x="684.0" y="1111.1" text-anchor="middle" font-size="10.5" fill="#a8a8a8" textLength="8.5" lengthAdjust="spacing">=</text><text x="754.2" y="1111.1" text-anchor="end" font-size="10.5" fill="#000" textLength="22.9" lengthAdjust="spacing" stroke="#000" stroke-width="0.18">21.5</text><text x="388.6" y="1124.4" text-anchor="start" font-size="10.5" fill="#000" textLength="65.7" lengthAdjust="spacing" stroke="#000" stroke-width="0.18">Second Floor</text><text x="587.7" y="1124.4" text-anchor="end" font-size="10.5" fill="#000" textLength="22.9" lengthAdjust="spacing" stroke="#000" stroke-width="0.18">14.0</text><text x="598.2" y="1124.4" text-anchor="middle" font-size="10.5" fill="#000" textLength="6.0" lengthAdjust="spacing" stroke="#000" stroke-width="0.18">x</text><text x="674.0" y="1124.4" text-anchor="end" font-size="10.5" fill="#000" textLength="16.5" lengthAdjust="spacing" stroke="#000" stroke-width="0.18">3.1</text><text x="684.0" y="1124.4" text-anchor="middle" font-size="10.5" fill="#000" textLength="8.5" lengthAdjust="spacing" stroke="#000" stroke-width="0.18">=</text><text x="754.2" y="1124.4" text-anchor="end" font-size="10.5" fill="#000" textLength="22.9" lengthAdjust="spacing" stroke="#000" stroke-width="0.18">43.4</text><text x="587.7" y="1137.8" text-anchor="end" font-size="10.5" fill="#000" textLength="22.9" lengthAdjust="spacing" stroke="#000" stroke-width="0.18">42.1</text><text x="598.2" y="1137.8" text-anchor="middle" font-size="10.5" fill="#000" textLength="6.0" lengthAdjust="spacing" stroke="#000" stroke-width="0.18">x</text><text x="674.0" y="1137.8" text-anchor="end" font-size="10.5" fill="#000" textLength="22.9" lengthAdjust="spacing" stroke="#000" stroke-width="0.18">26.0</text><text x="684.0" y="1137.8" text-anchor="middle" font-size="10.5" fill="#000" textLength="8.5" lengthAdjust="spacing" stroke="#000" stroke-width="0.18">=</text><text x="754.2" y="1137.8" text-anchor="end" font-size="10.5" fill="#000" textLength="35.8" lengthAdjust="spacing" stroke="#000" stroke-width="0.18">1094.6</text><text x="388.6" y="1151.1" text-anchor="start" font-size="10.5" fill="#000" textLength="69.2" lengthAdjust="spacing" stroke="#000" stroke-width="0.18">16 addl items</text><text x="388.6" y="1164.4" text-anchor="start" font-size="10.5" fill="#000" textLength="70.7" lengthAdjust="spacing" stroke="#000" stroke-width="0.18">32 total items</text><text x="674.0" y="1164.4" text-anchor="end" font-size="10.5" fill="#000" textLength="51.0" lengthAdjust="spacing" stroke="#000" stroke-width="0.18">(rounded)</text><text x="754.2" y="1164.4" text-anchor="end" font-size="10.5" fill="#000" textLength="29.4" lengthAdjust="spacing" stroke="#000" stroke-width="0.18">3,388</text><text x="752.4" y="897.0" text-anchor="end" font-size="9.4" fill="#8a8a8a" textLength="99.8" lengthAdjust="spacing">Sketch by ApexSketch</text><text x="381.0" y="1228.0" text-anchor="middle" font-size="9.5" fill="#222" textLength="173.0" lengthAdjust="spacing">© ILOOKABOUT (US) Inc. d/b/a Apex Software</text><g fill="none" stroke="#111" stroke-width="1.5"><path d="M5.5,1157 L24,1157" stroke="#c8c8c8" stroke-width="1"/><circle cx="5.5" cy="1157" r="0.9" fill="#222" stroke="none"/><path d="M13.9,1157 L13.9,1180" stroke-width="1.8"/><path d="M27.8,1155.5 L27.8,1180 M27.8,1155.5 L38.5,1180 L49.1,1155.5 L49.1,1180" stroke-width="1.6"/><path d="M57.3,1155.5 L57.3,1180" stroke-width="1.8"/><path d="M58,1177.5 L70.4,1177.5" stroke="#c0c0c0" stroke-width="1"/><path d="M89.5,1160 Q86,1154.5 81,1155 Q73.5,1155.5 74,1161.5 Q74.5,1166 81.5,1167.5 Q90.5,1169.5 90.5,1174.5 Q90,1180 82,1180.3 Q75,1180.5 73,1175.5" stroke-width="1.3"/></g></g>
</svg>
</body></html>
